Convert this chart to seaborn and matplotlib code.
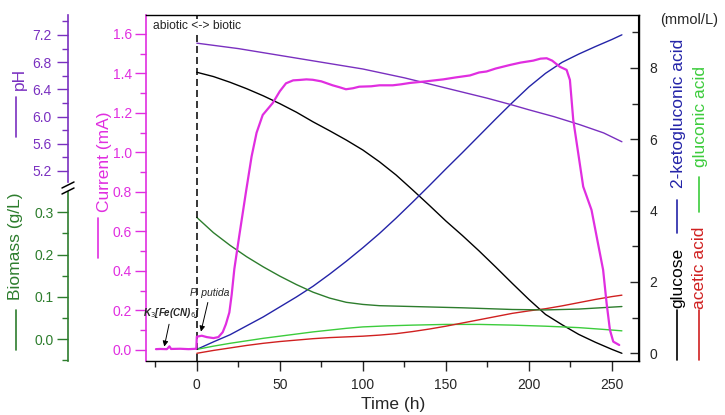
import matplotlib
matplotlib.use("Agg")
import matplotlib.pyplot as plt
from matplotlib.lines import Line2D
from matplotlib.ticker import FixedLocator, MultipleLocator, FormatStrFormatter
import seaborn as sns

# ---------------- data ----------------
cur_t = [-24.6, -22, -18, -16.5, -15.5, -10, -5, -0.3, 0, 3, 6, 10, 13, 15.6, 17.5, 19.6,
         21, 22.6, 25.6, 29.6, 33, 36, 39.7, 45.7, 50, 53.7, 58, 61.7, 66, 69.8, 75, 81.8,
         86, 89.8, 94, 97.8, 105, 110, 118, 123, 128.4, 138, 148.4, 156, 164.5, 170, 174.5,
         180, 188.6, 195, 202.6, 207, 210.7, 214, 218.6, 222.7, 224.7, 226.7, 229.7, 232.7,
         237.7, 240.8, 244.7, 246.8, 248.8, 250.8, 254.4]
cur_mA = [0.004, 0.005, 0.004, 0.018, 0.005, 0.006, 0.004, 0.006, 0.067, 0.072, 0.065, 0.060,
          0.065, 0.09, 0.13, 0.19, 0.28, 0.41, 0.58, 0.80, 0.98, 1.10, 1.19, 1.25, 1.31, 1.35,
          1.365, 1.367, 1.37, 1.368, 1.36, 1.34, 1.33, 1.32, 1.325, 1.333, 1.335, 1.34, 1.34,
          1.345, 1.352, 1.36, 1.37, 1.38, 1.39, 1.405, 1.41, 1.425, 1.443, 1.455, 1.465, 1.475,
          1.477, 1.465, 1.434, 1.418, 1.367, 1.165, 0.996, 0.827, 0.709, 0.574, 0.405, 0.236,
          0.101, 0.042, 0.025]

ph_t = [0, 25, 50, 75, 100, 125, 138.4, 150, 175, 188.6, 200, 215, 230.8, 245, 256]
ph_val = [7.08, 7.00, 6.90, 6.80, 6.70, 6.57, 6.49, 6.42, 6.27, 6.18, 6.10, 6.00, 5.88, 5.76, 5.63]

glc_t = [0, 10, 20, 30, 40, 50, 60, 70, 80, 90, 100, 110, 120, 130, 140, 150, 160, 170,
         180, 190, 200, 210, 220, 230, 240, 250, 256]
glc_mM = [7.88, 7.76, 7.60, 7.42, 7.22, 7.00, 6.76, 6.49, 6.24, 5.98, 5.70, 5.37, 5.00, 4.58,
          4.15, 3.71, 3.30, 2.87, 2.42, 1.96, 1.51, 1.09, 0.80, 0.53, 0.31, 0.11, 0.0]

kga_t = [0, 10, 20, 30, 40, 50, 60, 70, 80, 90, 100, 110, 120, 130, 140, 150, 160, 170,
         180, 190, 200, 210, 220, 230, 240, 250, 256]
kga_mM = [0.11, 0.32, 0.52, 0.77, 1.02, 1.30, 1.58, 1.88, 2.22, 2.58, 2.96, 3.36, 3.79, 4.24,
          4.70, 5.17, 5.63, 6.10, 6.57, 7.03, 7.47, 7.85, 8.16, 8.39, 8.60, 8.80, 8.93]

bio_t = [0, 10, 20, 30, 40, 50, 60, 70, 80, 90, 100, 110, 130, 160, 190, 210, 230, 256]
bio_gL = [0.288, 0.252, 0.222, 0.195, 0.171, 0.149, 0.129, 0.111, 0.097, 0.087, 0.082, 0.079,
          0.077, 0.074, 0.070, 0.069, 0.071, 0.077]

gla_t = [0, 10, 20, 30, 40, 50, 60, 70, 80, 90, 100, 115, 130, 150, 170, 190, 210, 230, 245, 256]
gla_mM = [0.11, 0.20, 0.28, 0.35, 0.42, 0.48, 0.54, 0.60, 0.65, 0.70, 0.74, 0.77, 0.79, 0.81,
          0.81, 0.79, 0.76, 0.72, 0.67, 0.63]

ace_t = [0, 10, 20, 30, 40, 50, 60, 70, 80, 90, 100, 110, 120, 130, 140, 150, 160, 170, 180,
         190, 200, 210, 220, 230, 240, 250, 256]
ace_mM = [0.0, 0.08, 0.15, 0.22, 0.28, 0.33, 0.37, 0.41, 0.44, 0.46, 0.48, 0.51, 0.55, 0.61,
          0.68, 0.76, 0.85, 0.94, 1.03, 1.12, 1.19, 1.25, 1.33, 1.42, 1.51, 1.59, 1.63]

x_ticks = [0, 50, 100, 150, 200, 250]
current_ticks = [0.0, 0.2, 0.4, 0.6, 0.8, 1.0, 1.2, 1.4, 1.6]
ph_ticks = [5.2, 5.6, 6.0, 6.4, 6.8, 7.2]
ph_minor = [5.4, 5.8, 6.2, 6.6, 7.0, 7.4]
biomass_ticks = [0.0, 0.1, 0.2, 0.3]
biomass_minor = [-0.05, 0.05, 0.15, 0.25]
conc_ticks = [0, 2, 4, 6, 8]
conc_minor = [1, 3, 5, 7, 9]

# ---------------- style ----------------
sns.set_style("ticks")
plt.rcParams['font.family'] = ['Liberation Sans', 'DejaVu Sans']

purple = '#7a30c0'
magenta = '#e02ee0'
dkgreen = '#2d7d2d'
ltgreen = '#3ccc3c'
blue = '#2424a8'
red = '#d02020'

W, H = 725, 415
fig = plt.figure(figsize=(7.25, 4.15), dpi=100)
L, R, B, T = 146, 638.5, 361, 15
ax = fig.add_axes([L / W, 1 - B / H, (R - L) / W, (B - T) / H])

def fx(px):
    return px / W

def fy(py):
    return 1 - py / H

ax_r = ax.twinx()
ax_ph = ax.twinx()
ax_bio = ax.twinx()

ax.set_zorder(5)
ax.patch.set_visible(False)

# ---------------- series ----------------
sns.lineplot(x=glc_t, y=glc_mM, ax=ax_r, color='black', lw=1.0, estimator=None, legend=False)
sns.lineplot(x=kga_t, y=kga_mM, ax=ax_r, color=blue, lw=1.0, estimator=None, legend=False)
sns.lineplot(x=gla_t, y=gla_mM, ax=ax_r, color=ltgreen, lw=1.0, estimator=None, legend=False)
sns.lineplot(x=ace_t, y=ace_mM, ax=ax_r, color=red, lw=1.0, estimator=None, legend=False)
sns.lineplot(x=ph_t, y=ph_val, ax=ax_ph, color=purple, lw=1.0, estimator=None, legend=False)
sns.lineplot(x=bio_t, y=bio_gL, ax=ax_bio, color=dkgreen, lw=1.0, estimator=None, legend=False)
sns.lineplot(x=cur_t, y=cur_mA, ax=ax, color=magenta, lw=1.6, estimator=None, legend=False)

ax.axvline(0, color='black', lw=1.1, ls=(0, (4.6, 2.6)), zorder=1)

# ---------------- main axes ----------------
ax.set_xlim(-30.6, 266)
ax.set_ylim(-0.056, 1.696)
ax.set_xticks(x_ticks)
ax.xaxis.set_minor_locator(MultipleLocator(25))
ax.set_yticks(current_ticks)
ax.yaxis.set_minor_locator(MultipleLocator(0.1))
ax.yaxis.set_major_formatter(FormatStrFormatter('%.1f'))
ax.tick_params(axis='x', which='major', length=7, width=1, direction='out', labelsize=10, pad=5)
ax.tick_params(axis='x', which='minor', length=4, width=1, direction='out')
ax.tick_params(axis='y', which='major', length=8, width=1, direction='out', labelsize=10,
               colors=magenta, pad=2)
ax.tick_params(axis='y', which='minor', length=4, width=1, direction='out', colors=magenta)
ax.tick_params(top=False, right=False, which='both')
for s in ['top', 'right', 'bottom']:
    ax.spines[s].set_visible(True)
    ax.spines[s].set_color('black')
    ax.spines[s].set_linewidth(1.0)
ax.spines['left'].set_color(magenta)
ax.spines['left'].set_linewidth(1.2)
ax.set_xlabel('')
ax.set_ylabel('')

# ---------------- right axis (mmol/L) ----------------
ax_r.set_ylim(-0.216, 9.486)
ax_r.set_yticks(conc_ticks)
ax_r.yaxis.set_minor_locator(FixedLocator(conc_minor))
ax_r.tick_params(axis='y', which='major', length=6, width=1, direction='in', labelsize=10, pad=8)
ax_r.tick_params(axis='y', which='minor', length=4, width=1, direction='in')
for s in ['top', 'left', 'bottom']:
    ax_r.spines[s].set_visible(False)
ax_r.spines['right'].set_visible(True)
ax_r.spines['right'].set_color('black')
ax_r.set_ylabel('')

# ---------------- pH axis ----------------
off = (68 - L) / (R - L)
ax_ph.set_ylim(2.406, 7.494)
ax_ph.yaxis.tick_left()
ax_ph.set_yticks(ph_ticks)
ax_ph.yaxis.set_minor_locator(FixedLocator(ph_minor))
ax_ph.yaxis.set_major_formatter(FormatStrFormatter('%.1f'))
for s in ['top', 'right', 'bottom']:
    ax_ph.spines[s].set_visible(False)
ax_ph.spines['left'].set_visible(True)
ax_ph.spines['left'].set_position(('axes', off))
ax_ph.spines['left'].set_bounds(5.04, 7.494)
ax_ph.spines['left'].set_color(purple)
ax_ph.spines['left'].set_linewidth(1.2)
ax_ph.tick_params(axis='y', which='major', length=8, width=1, direction='out', labelsize=10,
                  colors=purple, pad=4, left=True, right=False)
ax_ph.tick_params(axis='y', which='minor', length=4, width=1, direction='out',
                  colors=purple, left=True, right=False)
ax_ph.set_ylabel('')

# ---------------- biomass axis ----------------
ax_bio.set_ylim(-0.052, 0.7675)
ax_bio.yaxis.tick_left()
ax_bio.set_yticks(biomass_ticks)
ax_bio.yaxis.set_minor_locator(FixedLocator(biomass_minor))
ax_bio.yaxis.set_major_formatter(FormatStrFormatter('%.1f'))
for s in ['top', 'right', 'bottom']:
    ax_bio.spines[s].set_visible(False)
ax_bio.spines['left'].set_visible(True)
ax_bio.spines['left'].set_position(('axes', off))
ax_bio.spines['left'].set_bounds(-0.052, 0.348)
ax_bio.spines['left'].set_color(dkgreen)
ax_bio.spines['left'].set_linewidth(1.2)
ax_bio.tick_params(axis='y', which='major', length=8, width=1, direction='out', labelsize=10,
                   colors=dkgreen, pad=2, left=True, right=False)
ax_bio.tick_params(axis='y', which='minor', length=4, width=1, direction='out',
                   colors=dkgreen, left=True, right=False)
ax_bio.set_ylabel('')

# axis break marks
for yb in (185, 191):
    fig.add_artist(Line2D([fx(62), fx(74)], [fy(yb + 3), fy(yb - 3)],
                          transform=fig.transFigure, color='black', lw=1.1))

# ---------------- annotations ----------------
ax.text(-26.2, 0.969, 'abiotic <-> biotic', transform=ax.get_xaxis_transform(),
        fontsize=8.7, ha='left', va='center', zorder=10,
        bbox=dict(facecolor='white', edgecolor='none', pad=0.5))
ax.annotate('P. putida', xy=(2.5, 0.093), xytext=(8.0, 0.289), fontsize=7.5,
            style='italic', ha='center', va='center',
            arrowprops=dict(arrowstyle='-|>', color='black', lw=0.7, mutation_scale=8,
                            shrinkA=1, shrinkB=0))
ax.annotate('K$_3$[Fe(CN)$_6$]', xy=(-19.6, 0.017), xytext=(-15.2, 0.189), fontsize=7,
            style='italic', fontweight='bold', ha='center', va='center',
            arrowprops=dict(arrowstyle='-|>', color='black', lw=0.7, mutation_scale=8,
                            shrinkA=1, shrinkB=0))

# ---------------- axis titles with line keys ----------------
def key(x, y1, y2, color):
    fig.add_artist(Line2D([fx(x), fx(x)], [fy(y1), fy(y2)], transform=fig.transFigure,
                          color=color, lw=1.2))

def vtext(x, yc, s, color, size=12.5):
    fig.text(fx(x), fy(yc), s, rotation=90, ha='center', va='center', color=color,
             fontsize=size)

vtext(19, 79, 'pH', purple)
key(16, 97, 137, purple)
vtext(16, 246, 'Biomass (g/L)', dkgreen)
key(16, 310, 350, dkgreen)
vtext(104, 162, 'Current (mA)', magenta)
key(98, 218, 258, magenta)

vtext(678, 113.5, '2-ketogluconic acid', blue)
key(677, 200, 233, blue)
vtext(678, 277.5, 'glucose', 'black')
key(677, 310, 360, 'black')
vtext(700, 116.5, 'gluconic acid', ltgreen)
key(699, 177, 212, ltgreen)
vtext(700, 268, 'acetic acid', red)
key(699, 310, 360, red)

fig.text(fx(689), fy(20), '(mmol/L)', ha='center', va='center', fontsize=10.5)
fig.text(fx(393), fy(404), 'Time (h)', ha='center', va='center', fontsize=12.5)

fig.savefig('out.png', dpi=100)
